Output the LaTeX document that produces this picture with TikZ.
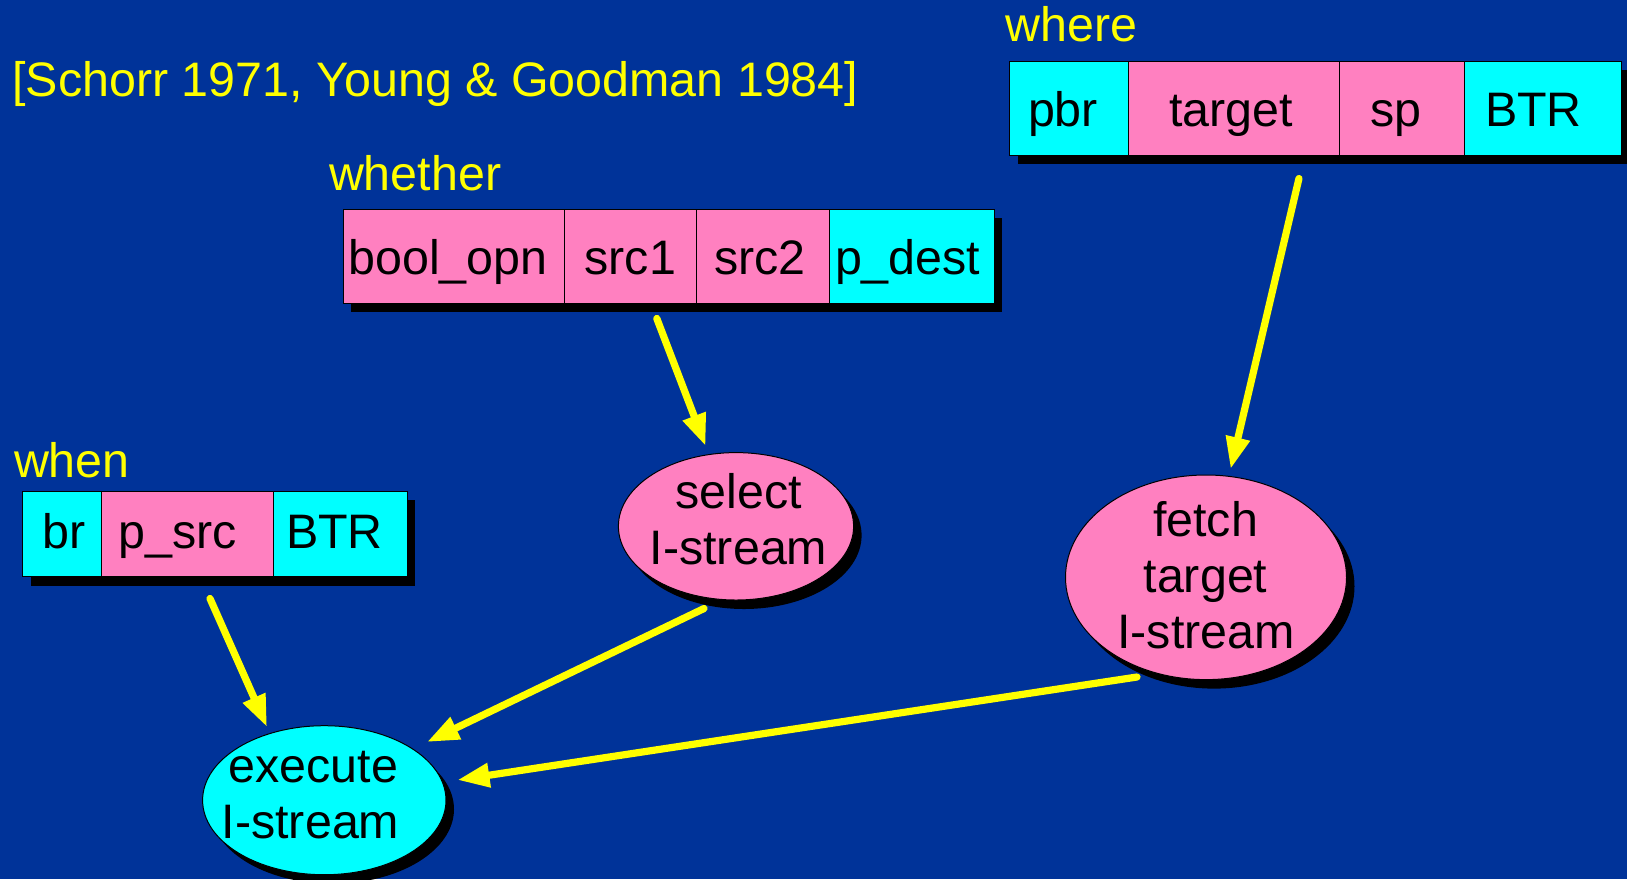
\documentclass[tikz,border=0pt]{standalone}
\usepackage{fontspec}
\setmainfont{Liberation Sans}
\usetikzlibrary{arrows.meta,shapes.geometric,shadows}
\definecolor{slidebg}{HTML}{003399}
\definecolor{fieldpink}{HTML}{FF80C0}
\definecolor{fieldcyan}{HTML}{00FFFF}
\definecolor{hiyellow}{HTML}{FFFF00}

\begin{document}
\begin{tikzpicture}[x=0.5pt,y=-0.5pt,
  font=\fontsize{24.2}{28}\selectfont,
  every node/.style={inner sep=0pt, outer sep=0pt},
  blackshadow/.style={drop shadow={shadow xshift=4pt, shadow yshift=-4.5pt, opacity=1, fill=black}},
  tagtext/.style={text=hiyellow, anchor=base west},
  fieldword/.style={text=black, anchor=base west},
  ovalword/.style={text=black, anchor=base},
  fieldframe/.style={rectangle, anchor=north west, draw=black, line width=0.5pt, blackshadow},
  fieldcell/.style={rectangle, anchor=north west, draw=black, line width=0.5pt},
  procoval/.style={ellipse, draw=black, line width=0.5pt, blackshadow},
  flowarrow/.style={draw=hiyellow, line width=3.6pt, line cap=round,
    -{Triangle[length=16pt,width=11.5pt]}}
]
\useasboundingbox (0,0) rectangle (1627,879);
\fill[slidebg] (0,0) rectangle (1627,879);

% reference line
\node[tagtext] (cite) at (12.5,96) {[Schorr 1971, Young \& Goodman 1984]};

% "where" instruction format
\node[tagtext] (wherelbl) at (1005.5,41.7) {where};
\node[fieldframe, minimum width=305.95pt, minimum height=47pt] (wherebox) at (1009.7,61) {};
\node[fieldcell, fill=fieldcyan, minimum width=59.4pt,   minimum height=47pt] (wh-pbr) at (1009.7,61) {};
\node[fieldcell, fill=fieldpink, minimum width=105.25pt, minimum height=47pt] (wh-tgt) at (1128.5,61) {};
\node[fieldcell, fill=fieldpink, minimum width=62.7pt,   minimum height=47pt] (wh-sp)  at (1339,61) {};
\node[fieldcell, fill=fieldcyan, minimum width=78.6pt,   minimum height=47pt] (wh-btr) at (1464.4,61) {};
\node[fieldword] (wt-pbr) at (1028,126.7) {pbr};
\node[fieldword] (wt-tgt) at (1169,126.7) {target};
\node[fieldword] (wt-sp)  at (1370.5,126.7) {sp};
\node[fieldword] (wt-btr) at (1485,126.7) {BTR};

% "whether" instruction format
\node[tagtext] (whetherlbl) at (329,190) {whether};
\node[fieldframe, minimum width=325.5pt, minimum height=47pt] (whetherbox) at (343,209.3) {};
\node[fieldcell, fill=fieldpink, minimum width=110.5pt, minimum height=47pt] (wr-op)   at (343,209.3) {};
\node[fieldcell, fill=fieldpink, minimum width=66pt,    minimum height=47pt] (wr-s1)   at (564,209.3) {};
\node[fieldcell, fill=fieldpink, minimum width=66.75pt, minimum height=47pt] (wr-s2)   at (696,209.3) {};
\node[fieldcell, fill=fieldcyan, minimum width=82.25pt, minimum height=47pt] (wr-dest) at (829.5,209.3) {};
\node[fieldword] (rt-op)   at (348.3,274) {bool\_opn};
\node[fieldword] (rt-s1)   at (584.5,274) {src1};
\node[fieldword] (rt-s2)   at (714,274) {src2};
\node[fieldword] (rt-dest) at (835,274) {p\_dest};

% "when" instruction format
\node[tagtext] (whenlbl) at (14,477.7) {when};
\node[fieldframe, minimum width=192.3pt, minimum height=42.85pt] (whenbox) at (22.7,491) {};
\node[fieldcell, fill=fieldcyan, minimum width=39.3pt, minimum height=42.85pt] (wn-br)  at (22.7,491) {};
\node[fieldcell, fill=fieldpink, minimum width=86pt,   minimum height=42.85pt] (wn-src) at (101.3,491) {};
\node[fieldcell, fill=fieldcyan, minimum width=67pt,   minimum height=42.85pt] (wn-btr) at (273.3,491) {};
\node[fieldword] (nt-br)  at (42.5,548.3) {br};
\node[fieldword] (nt-src) at (118.5,548.3) {p\_src};
\node[fieldword] (nt-btr) at (286,548.3) {BTR};

% instruction streams
\node[procoval, fill=fieldpink, minimum width=117.6pt, minimum height=73.7pt] (sel) at (736,526.3) {};
\node[ovalword] (sel-l1) at (738.5,508) {select};
\node[ovalword] (sel-l2) at (738.5,564.5) {I-stream};

\node[procoval, fill=fieldpink, minimum width=140.5pt, minimum height=102.3pt] (fetch) at (1206,577.3) {};
\node[ovalword] (fetch-l1) at (1205.5,536) {fetch};
\node[ovalword] (fetch-l2) at (1205.5,592) {target};
\node[ovalword] (fetch-l3) at (1206,648) {I-stream};

\node[procoval, fill=fieldcyan, minimum width=121.7pt, minimum height=74.5pt] (exec) at (324.3,800.2) {};
\node[ovalword] (exec-l1) at (313.5,782) {execute};
\node[ovalword] (exec-l2) at (310.5,838.3) {I-stream};

% flow between formats and streams
\draw[flowarrow] ([shift={(-16.7,23.5)}]wherebox.south) -- ([shift={(24.6,-108.3)}]fetch.center);
\draw[flowarrow] ([shift={(-11.7,15.2)}]whetherbox.south) -- ([shift={(-30.4,-80.3)}]sel.center);
\draw[flowarrow] ([shift={(-5,21.8)}]whenbox.south) -- ([shift={(-57.3,-73.2)}]exec.center);
\draw[flowarrow] ([shift={(-32,82.2)}]sel.center) -- ([shift={(102.7,-58.2)}]exec.center);
\draw[flowarrow] ([shift={(-69,99.7)}]fetch.center) -- ([shift={(133.2,-20.2)}]exec.center);
\end{tikzpicture}
\end{document}
